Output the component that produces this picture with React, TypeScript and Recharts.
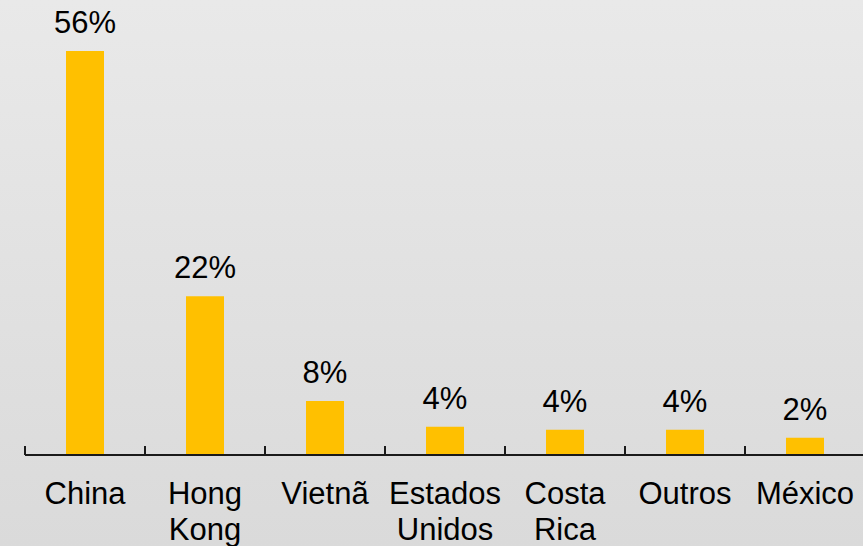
import React from 'react';
import { BarChart, Bar, XAxis, YAxis, LabelList } from 'recharts';

const countries = ['China', 'Hong Kong', 'Vietnã', 'Estados Unidos', 'Costa Rica', 'Outros', 'México'];
const shares = [56, 22, 7.5, 3.9, 3.5, 3.5, 2.4];

const data = countries.map((name, i) => ({ name, share: shares[i] }));

const W = 865;
const H = 546;
const LEFT = 25;
const band = (W - LEFT) / countries.length;
const font = '"Liberation Sans", Arial, sans-serif';

const CountryTick = (props: any) => {
  const { x, y, payload } = props;
  const lines = String(payload.value).split(' ');
  return (
    <g>
      <line x1={x - band / 2} y1={y} x2={x - band / 2} y2={y - 9} stroke="#1a1a1a" strokeWidth={2} />
      <text x={x} y={y + 49} textAnchor="middle" fontSize={31} fontFamily={font} fill="#000">
        {lines.map((l, i) => (
          <tspan key={i} x={x} dy={i === 0 ? 0 : 36}>
            {l}
          </tspan>
        ))}
      </text>
    </g>
  );
};

const App = () => {
  return (
    <div
      style={{
        position: 'absolute',
        left: 0,
        top: 0,
        width: 863,
        height: 546,
        overflow: 'hidden',
        background: 'linear-gradient(#e9e9e9, #dadada)',
      }}
    >
      <BarChart width={W} height={H} data={data} margin={{ top: 51, right: 0, left: LEFT, bottom: 0 }}>
        <XAxis
          dataKey="name"
          height={91}
          interval={0}
          tickSize={0}
          tickMargin={0}
          tickLine={false}
          axisLine={{ stroke: '#1a1a1a', strokeWidth: 2 }}
          tick={<CountryTick />}
        />
        <YAxis hide domain={[0, 56]} allowDataOverflow />
        <Bar dataKey="share" fill="#FFC000" barSize={38} isAnimationActive={false}>
          <LabelList
            dataKey="share"
            position="top"
            offset={18}
            formatter={(v: any) => `${Math.round(Number(v))}%`}
            style={{ fontSize: 31, fontFamily: font, fill: '#000' }}
          />
        </Bar>
      </BarChart>
    </div>
  );
};

export default App;
